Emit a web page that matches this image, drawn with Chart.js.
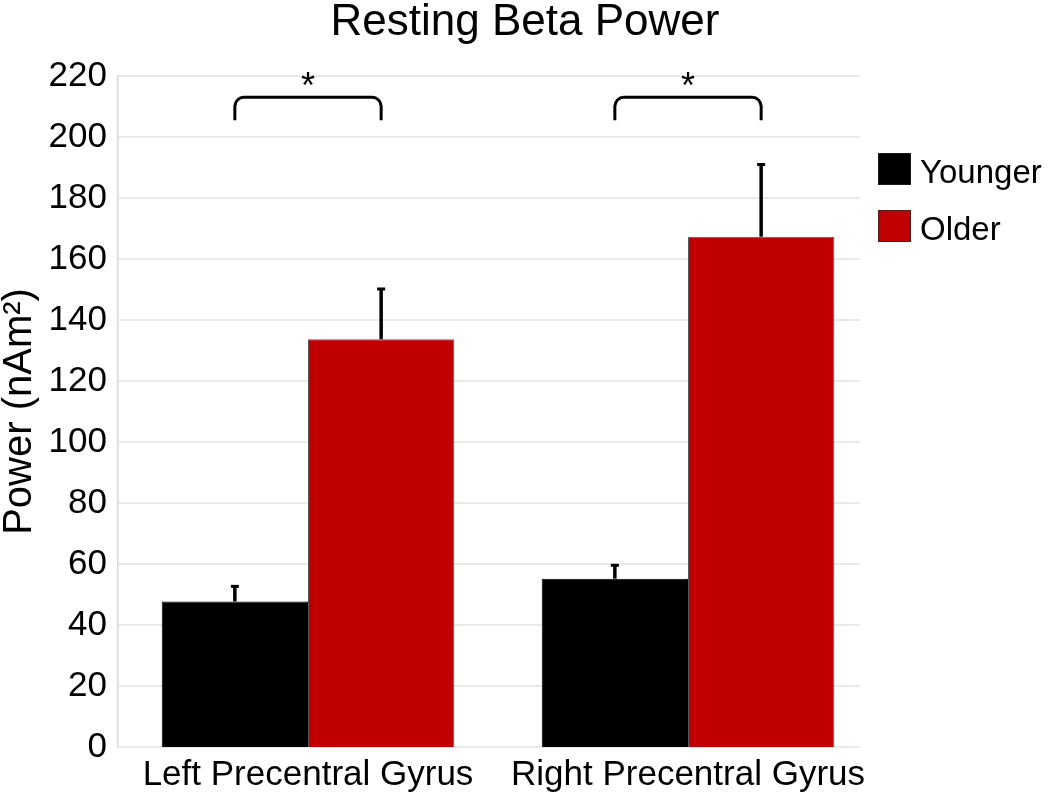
<!DOCTYPE html>
<html>
<head>
<meta charset="utf-8">
<script src="https://cdn.jsdelivr.net/npm/chart.js@4"></script>
<style>
  html, body { margin: 0; padding: 0; background: #fff; }
  #wrap { width: 1050px; height: 796px; }
</style>
</head>
<body>
<div id="wrap"><canvas id="grafiek"></canvas></div>
<script>
// data
var categories = ['Left Precentral Gyrus', 'Right Precentral Gyrus'];
var seriesNames = ['Younger', 'Older'];
var seriesColors = ['#000000', '#c00000'];
var younger = [47.7, 55.2];
var older = [133.7, 167.3];
var youngerErr = [5.3, 4.7];
var olderErr = [16.8, 24.0];
var yTicks = [0, 20, 40, 60, 80, 100, 120, 140, 160, 180, 200, 220];
// significance brackets (in axis units)
var bracketTop = [213, 213];
var bracketEnd = [205.5, 205.5];
var sigLabels = ['*', '*'];

Chart.defaults.font.family = "'Liberation Sans', Arial, sans-serif";
Chart.defaults.color = '#000';

// horizontale rasterlijnen, iets korter dan het plotgebied
var rasterPlugin = {
  id: 'raster',
  beforeDatasetsDraw: function(chart) {
    var ctx = chart.ctx, y = chart.scales.y, a = chart.chartArea;
    ctx.save();
    ctx.strokeStyle = '#e2e2e2';
    ctx.lineWidth = 1.5;
    y.ticks.forEach(function(t) {
      var py = y.getPixelForValue(t.value);
      ctx.beginPath();
      ctx.moveTo(a.left, py);
      ctx.lineTo(a.right - 18, py);
      ctx.stroke();
    });
    ctx.restore();
  }
};

// foutbalken (alleen naar boven)
var foutPlugin = {
  id: 'fout',
  afterDatasetsDraw: function(chart) {
    var ctx = chart.ctx, y = chart.scales.y;
    var errs = [youngerErr, olderErr];
    ctx.save();
    ctx.strokeStyle = '#000';
    chart.data.datasets.forEach(function(ds, i) {
      chart.getDatasetMeta(i).data.forEach(function(bar, j) {
        var top = y.getPixelForValue(ds.data[j] + errs[i][j]);
        ctx.lineWidth = 3.5;
        ctx.beginPath();
        ctx.moveTo(bar.x, bar.y);
        ctx.lineTo(bar.x, top);
        ctx.stroke();
        ctx.lineWidth = 3;
        ctx.beginPath();
        ctx.moveTo(bar.x - 4, top + 1);
        ctx.lineTo(bar.x + 4, top + 1);
        ctx.stroke();
      });
    });
    ctx.restore();
  }
};

// haken met sterretjes
var haakPlugin = {
  id: 'haak',
  afterDatasetsDraw: function(chart) {
    var ctx = chart.ctx, y = chart.scales.y;
    var m0 = chart.getDatasetMeta(0), m1 = chart.getDatasetMeta(1);
    var r = 9;
    ctx.save();
    ctx.strokeStyle = '#000';
    ctx.fillStyle = '#000';
    ctx.lineWidth = 3;
    categories.forEach(function(c, j) {
      var x1 = m0.data[j].x, x2 = m1.data[j].x;
      var yT = y.getPixelForValue(bracketTop[j]);
      var yE = y.getPixelForValue(bracketEnd[j]);
      ctx.beginPath();
      ctx.moveTo(x1, yE);
      ctx.lineTo(x1, yT + r);
      ctx.arcTo(x1, yT, x1 + r, yT, r);
      ctx.lineTo(x2 - r, yT);
      ctx.arcTo(x2, yT, x2, yT + r, r);
      ctx.lineTo(x2, yE);
      ctx.stroke();
      ctx.font = "36px 'Liberation Sans', Arial, sans-serif";
      ctx.textAlign = 'center';
      ctx.textBaseline = 'alphabetic';
      ctx.fillText(sigLabels[j], (x1 + x2) / 2, yT + 1);
    });
    ctx.restore();
  }
};

// legenda rechts naast het plotgebied
var legendaPlugin = {
  id: 'legenda',
  afterDraw: function(chart) {
    var ctx = chart.ctx, a = chart.chartArea;
    ctx.save();
    ctx.font = "33px 'Liberation Sans', Arial, sans-serif";
    ctx.textAlign = 'left';
    ctx.textBaseline = 'alphabetic';
    chart.data.datasets.forEach(function(ds, i) {
      var bx = a.right, by = a.top + 77 + i * 57;
      ctx.fillStyle = ds.backgroundColor;
      ctx.fillRect(bx, by, 33, 32);
      ctx.strokeStyle = 'rgba(40,40,40,0.7)';
      ctx.lineWidth = 1;
      ctx.strokeRect(bx + 0.5, by + 0.5, 32, 31);
      ctx.fillStyle = '#000';
      ctx.fillText(ds.label, bx + 42, by + 30);
    });
    ctx.restore();
  }
};

function tekenGrafiek() {
  var ctx = document.getElementById('grafiek');
  new Chart(ctx, {
    type: 'bar',
    data: {
      labels: categories,
      datasets: [{
        label: seriesNames[0],
        data: younger,
        backgroundColor: seriesColors[0],
        borderColor: '#000',
        borderWidth: 1
      }, {
        label: seriesNames[1],
        data: older,
        backgroundColor: seriesColors[1],
        borderColor: 'rgba(50,50,50,0.8)',
        borderWidth: 1
      }]
    },
    options: {
      maintainAspectRatio: false,
      animation: false,
      categoryPercentage: 0.77,
      barPercentage: 1.0,
      layout: { padding: { top: 0, left: 0, right: 0, bottom: -7 } },
      plugins: {
        legend: { display: false },
        tooltip: { enabled: false },
        title: {
          display: true,
          text: 'Resting Beta Power',
          font: { size: 44, weight: 'normal', lineHeight: 1.0 },
          color: '#000',
          padding: { top: 1, bottom: 31 }
        }
      },
      scales: {
        x: {
          grid: { display: false, drawTicks: false },
          border: { display: false },
          ticks: { font: { size: 35 }, padding: 7, color: '#000' }
        },
        y: {
          min: yTicks[0],
          max: yTicks[yTicks.length - 1],
          grid: { display: false, drawTicks: false },
          border: { display: true, color: '#d8d8d8', width: 1.5 },
          ticks: { stepSize: yTicks[1] - yTicks[0], font: { size: 35 }, padding: 11, color: '#000' },
          title: {
            display: true,
            text: 'Power (nAm\u00B2)',
            font: { size: 40, lineHeight: 1.0 },
            padding: 0,
            color: '#000'
          },
          afterFit: function(scale) { scale.width = 118; }
        },
        ruimte: {
          position: 'right',
          grid: { display: false, drawTicks: false },
          border: { display: false },
          ticks: { display: false },
          afterFit: function(scale) { scale.width = 172; }
        }
      }
    },
    plugins: [rasterPlugin, foutPlugin, haakPlugin, legendaPlugin]
  });
}

window.onload = function() {
  tekenGrafiek();
};
</script>
</body>
</html>
